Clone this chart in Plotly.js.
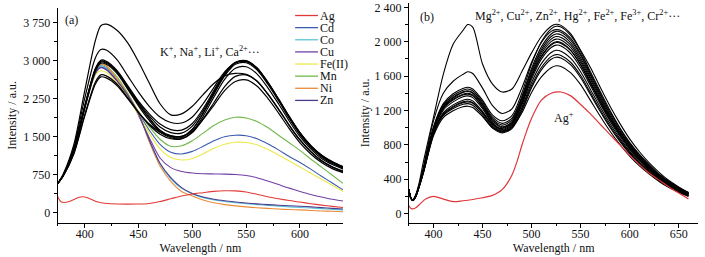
<!DOCTYPE html>
<html>
<head>
<meta charset="utf-8">
<script src="https://cdn.plot.ly/plotly-3.0.1.min.js"></script>
<style>
html,body{margin:0;padding:0;background:#fff;}
#chart{width:705px;height:257px;}
</style>
</head>
<body>
<div id="chart"></div>
<script>
// ---------- Panel (a) ----------
var wlA = [375,380,390,400,410,415,420,430,440,450,460,470,480,490,500,510,520,530,540,550,560,570,580,590,600,610,620,630,640];
var wlAgA = [375,378,381,385,390,395,398,402,406,410,415,420,430,440,450,460,470,480,490,500,510,520,530,540,550,560,570,580,590,600,610,620,630,640];

var metalNames = ["Ag","Cd","Co","Cu","Fe(II)","Mn","Ni","Zn"];
var metalColors = ["#e23b36","#3b5cae","#5cc6d6","#7240a4","#ece94c","#72b84c","#eb8b3a","#4b3b8e"];

var agA = [316,215,200,215,260,305,315,300,265,225,195,182,172,170,172,182,220,275,330,370,395,420,432,430,410,365,315,275,240,210,178,150,125,102];
var cdA = [580,730,1240,2070,2780,2900,2860,2620,2300,1960,1630,1350,1195,1160,1210,1310,1420,1500,1530,1520,1460,1360,1240,1110,990,860,720,585,450];
var coA = [580,730,1240,2060,2770,2890,2850,2620,2320,1960,1420,960,670,480,370,298,252,220,198,178,160,144,130,116,104,92,80,66,55];
var cuA = [580,730,1230,2050,2760,2870,2830,2610,2330,1920,1480,1080,890,815,785,770,765,762,755,735,690,625,555,485,420,360,310,265,230];
var feA = [580,730,1230,2040,2720,2800,2770,2560,2280,1930,1570,1260,1090,1040,1070,1160,1270,1350,1390,1385,1340,1250,1140,1020,900,780,660,540,420];
var mnA = [580,730,1240,2080,2800,2930,2890,2680,2360,2000,1700,1450,1310,1320,1420,1570,1720,1830,1885,1870,1800,1680,1530,1380,1230,1060,900,740,580];
var niA = [580,730,1240,2070,2800,2940,2900,2640,2330,1970,1400,920,620,420,330,250,195,160,135,115,98,85,72,62,55,45,35,28,20];
var znA = [580,730,1230,2050,2750,2860,2820,2600,2320,1950,1435,975,690,495,380,310,265,235,212,192,175,160,148,138,128,115,100,85,72];

var blackA1 = [580,760,1350,2400,3400,3690,3720,3600,3350,2980,2560,2150,1930,1950,2100,2330,2550,2700,2750,2730,2600,2350,2050,1730,1440,1210,1030,905,820];
var blackA2 = [580,740,1300,2250,3060,3220,3210,3020,2700,2380,2100,1890,1780,1770,1890,2150,2470,2780,2960,2980,2840,2560,2230,1880,1560,1310,1120,990,890];
var blackA3 = [580,730,1250,2100,2850,3010,2990,2810,2510,2200,1950,1750,1640,1630,1760,2050,2410,2760,2970,3000,2860,2580,2240,1890,1570,1320,1130,1000,900];
var blackA4 = [580,730,1250,2090,2830,2990,2970,2790,2490,2180,1910,1690,1580,1570,1710,2010,2380,2740,2960,2990,2850,2580,2250,1900,1580,1330,1140,1010,910];
var blackA5 = [580,730,1240,2070,2810,2970,2950,2770,2460,2140,1860,1630,1520,1505,1650,1960,2340,2700,2930,2960,2820,2540,2210,1860,1540,1290,1100,970,880];
var blackA6 = [580,730,1240,2060,2790,2950,2930,2750,2440,2110,1820,1590,1480,1465,1600,1900,2280,2630,2850,2880,2740,2470,2150,1810,1500,1260,1070,950,860];
var blackA7 = [580,720,1180,1930,2580,2720,2700,2540,2270,1980,1730,1550,1460,1455,1580,1850,2170,2490,2690,2720,2600,2340,2040,1720,1430,1200,1020,900,810];
var blackA8 = [580,720,1160,1900,2540,2680,2660,2510,2250,1980,1750,1590,1510,1505,1610,1840,2120,2410,2590,2620,2500,2260,1970,1660,1380,1160,990,870,790];
var blackA9 = [580,730,1250,2090,2830,2990,2970,2790,2480,2160,1870,1620,1500,1485,1640,1960,2350,2720,2960,2990,2850,2570,2240,1890,1570,1320,1130,1000,900];

// ---------- Panel (b) ----------
var wlB = [375,377,379,382,385,390,400,410,420,430,435,440,450,460,470,480,490,500,510,520,525,530,540,550,560,570,580,590,600,610,620,630,640,650,660];
var wlAgB = [375,377,379,382,386,392,400,410,420,430,440,450,460,465,470,475,480,485,490,495,500,510,520,530,540,550,560,570,580,590,600,610,620,630,640,650,660];
var agB = [90,60,55,68,110,170,200,170,140,150,165,185,212,240,280,350,450,600,790,960,1110,1320,1400,1415,1370,1270,1160,1040,920,800,680,570,470,390,310,240,170];

var blackB1 = [280,185,160,225,340,620,1120,1620,1970,2130,2200,2170,1740,1510,1415,1450,1650,1870,2060,2180,2203,2190,2090,1900,1700,1470,1250,1050,870,720,590,480,385,310,245];
var blackB2 = [280,182,158,215,320,560,1080,1400,1540,1620,1650,1630,1460,1260,1165,1220,1460,1760,1990,2120,2140,2130,2040,1860,1630,1400,1180,990,820,680,560,455,370,300,240];
var blackB3 = [280,180,158,212,315,530,1010,1280,1395,1455,1470,1450,1320,1150,1080,1140,1400,1740,2000,2150,2180,2170,2070,1890,1650,1420,1200,1000,830,690,570,460,375,305,245];
var blackB4 = [280,180,157,210,312,525,1000,1265,1375,1435,1450,1430,1300,1125,1050,1110,1360,1690,1940,2090,2120,2110,2015,1840,1610,1380,1160,970,805,670,550,445,365,295,240];
var blackB5 = [280,180,157,210,312,522,990,1250,1355,1418,1430,1410,1280,1105,1030,1090,1340,1665,1910,2060,2090,2080,1985,1810,1585,1360,1140,955,795,660,540,440,355,290,235];
var blackB6 = [280,180,156,208,310,520,985,1240,1345,1408,1420,1400,1268,1090,1010,1070,1320,1640,1885,2030,2060,2050,1960,1785,1565,1340,1125,945,785,650,533,432,350,285,230];
var blackB7 = [280,180,156,208,310,520,980,1230,1330,1390,1400,1380,1250,1080,1000,1060,1300,1620,1860,2000,2030,2020,1930,1760,1540,1320,1110,930,770,640,525,425,345,280,225];
var blackB8 = [280,179,155,206,308,515,975,1222,1320,1380,1390,1370,1238,1062,980,1040,1280,1595,1832,1970,2000,1990,1900,1735,1520,1300,1095,918,760,630,518,420,340,277,222];
var blackB9 = [280,178,155,205,306,510,965,1205,1300,1360,1370,1350,1222,1050,970,1028,1260,1565,1797,1932,1960,1950,1862,1700,1490,1275,1075,900,745,618,508,412,334,272,218];
var blackB10 = [280,178,154,203,303,500,945,1175,1265,1320,1330,1312,1190,1030,960,1015,1230,1525,1745,1875,1900,1890,1805,1650,1445,1240,1045,875,725,600,495,402,326,266,214];
var blackB11 = [280,177,154,202,300,495,935,1160,1248,1300,1310,1292,1172,1015,950,1003,1210,1490,1700,1826,1850,1840,1758,1607,1408,1208,1020,855,710,588,485,394,320,261,210];
var blackB12 = [280,177,153,200,298,490,920,1140,1222,1272,1280,1262,1148,998,940,990,1192,1465,1672,1796,1820,1810,1730,1580,1385,1188,1002,840,698,578,476,386,313,255,205];
var blackB13 = [280,176,152,198,295,482,905,1118,1196,1243,1250,1235,1130,1000,960,1000,1170,1410,1590,1698,1720,1712,1638,1500,1318,1132,958,805,670,556,460,374,304,248,200];
var blackB14 = [280,177,153,200,300,493,930,1152,1238,1290,1300,1285,1175,1040,990,1050,1285,1595,1825,1960,1990,1980,1895,1730,1515,1300,1095,920,765,637,525,428,350,285,230];

// tick settings
var xTicksA = {dtick:50, minor:25};
var yTicksA = {dtick:750, minor:375};
var xTicksB = {dtick:50, minor:25};
var yTicksB = {dtick:400, minor:200};

var serif = "Liberation Serif, Times New Roman, serif";
var traces = [];
function addLine(x, y, color, xa, ya, name, w) {
  traces.push({x:x, y:y, type:"scatter", mode:"lines", name:name, showlegend:false,
    xaxis:xa, yaxis:ya, line:{color:color, width:w||1.1, shape:"spline", smoothing:0.8},
    hoverinfo:"skip"});
}

var coloredA = [agA, cdA, coA, cuA, feA, mnA, niA, znA];
for (var i = 1; i < coloredA.length; i++) {
  addLine(wlA, coloredA[i], metalColors[i], "x", "y", metalNames[i]);
}
var blacksA = [blackA8, blackA7, blackA6, blackA5, blackA9, blackA4, blackA3, blackA2, blackA1];
blacksA.forEach(function(s){ addLine(wlA, s, "#000000", "x", "y", "other", 1.2); });
addLine(wlAgA, agA, metalColors[0], "x", "y", metalNames[0]);

var blacksB = [blackB1, blackB2, blackB3, blackB4, blackB5, blackB6, blackB7, blackB8, blackB9, blackB10, blackB11, blackB12, blackB13, blackB14];
blacksB.forEach(function(s){ addLine(wlB, s, "#000000", "x2", "y2", "other", 1.1); });
addLine(wlAgB, agB, "#e0353a", "x2", "y2", "Ag+", 1.2);

function axisStyle(extra) {
  var a = {showline:true, linecolor:"#000", linewidth:1, showgrid:false, zeroline:false,
    ticks:"outside", ticklen:4, tickwidth:1, tickcolor:"#000",
    tickfont:{family:serif, size:12, color:"#111"}, mirror:false, fixedrange:true};
  for (var k in extra) a[k] = extra[k];
  return a;
}

var titleFont = {family:serif, size:12, color:"#111"};
var layout = {
  width:705, height:257,
  margin:{l:0, r:0, t:0, b:0},
  paper_bgcolor:"#fff", plot_bgcolor:"#fff",
  separators:". ",
  showlegend:false,
  xaxis: axisStyle({domain:[0.0819,0.4866], range:[375,640], anchor:"y", tick0:0, dtick:xTicksA.dtick,
    ticklabelstandoff:-4,
    minor:{dtick:xTicksA.minor, ticks:"outside", ticklen:2.5, tickcolor:"#000"},
    title:{text:"Wavelength / nm", font:titleFont, standoff:1}}),
  yaxis: axisStyle({domain:[0.1335,0.9689], range:[-197,4040], anchor:"x", tick0:0, dtick:yTicksA.dtick,
    separatethousands:true,
    minor:{dtick:yTicksA.minor, ticks:"outside", ticklen:2.5, tickcolor:"#000"},
    title:{text:"Intensity / a.u.", font:titleFont, standoff:4}}),
  xaxis2: axisStyle({domain:[0.5801,0.9905], range:[375,670], anchor:"y2", tick0:0, dtick:xTicksB.dtick,
    ticklabelstandoff:-4,
    minor:{dtick:xTicksB.minor, ticks:"outside", ticklen:2.5, tickcolor:"#000"},
    title:{text:"Wavelength / nm", font:titleFont, standoff:1}}),
  yaxis2: axisStyle({domain:[0.1335,0.9883], range:[-105,2450], anchor:"x2", tick0:0, dtick:yTicksB.dtick,
    separatethousands:true,
    minor:{dtick:yTicksB.minor, ticks:"outside", ticklen:2.5, tickcolor:"#000"},
    title:{text:"Intensity / a.u.", font:titleFont, standoff:2}}),
  annotations:[
    {text:"(a)", x:0.02, y:0.985, xref:"x domain", yref:"y domain", xanchor:"left", yanchor:"top", showarrow:false, font:titleFont},
    {text:"K<sup>+</sup>, Na<sup>+</sup>, Li<sup>+</sup>, Ca<sup>2+</sup>···", x:516, y:3172, xref:"x", yref:"y", showarrow:false, font:titleFont},
    {text:"(b)", x:0.03, y:0.975, xref:"x2 domain", yref:"y2 domain", xanchor:"left", yanchor:"top", showarrow:false, font:titleFont},
    {text:"Mg<sup>2+</sup>, Cu<sup>2+</sup>, Zn<sup>2+</sup>, Hg<sup>2+</sup>, Fe<sup>2+</sup>, Fe<sup>3+</sup>, Cr<sup>2+</sup>···", x:547, y:2300, xref:"x2", yref:"y2", showarrow:false, font:titleFont},
    {text:"Ag<sup>+</sup>", x:533, y:1113, xref:"x2", yref:"y2", showarrow:false, font:titleFont}
  ],
  shapes:[]
};

// manual compact legend for panel (a)
var legX0 = 0.832, legX1 = 0.912, legTextX = 0.916, legTop = 0.965, legStep = 0.0565;
metalNames.forEach(function(n, i){
  var yy = legTop - i*legStep;
  layout.shapes.push({type:"line", xref:"x domain", yref:"y domain", x0:legX0, x1:legX1, y0:yy, y1:yy,
    line:{color:metalColors[i], width:1.3}});
  layout.annotations.push({text:n, xref:"x domain", yref:"y domain", x:legTextX, y:yy, xanchor:"left", yanchor:"middle",
    showarrow:false, font:titleFont, borderpad:0});
});

Plotly.newPlot("chart", traces, layout, {displayModeBar:false, staticPlot:true});
</script>
</body>
</html>
